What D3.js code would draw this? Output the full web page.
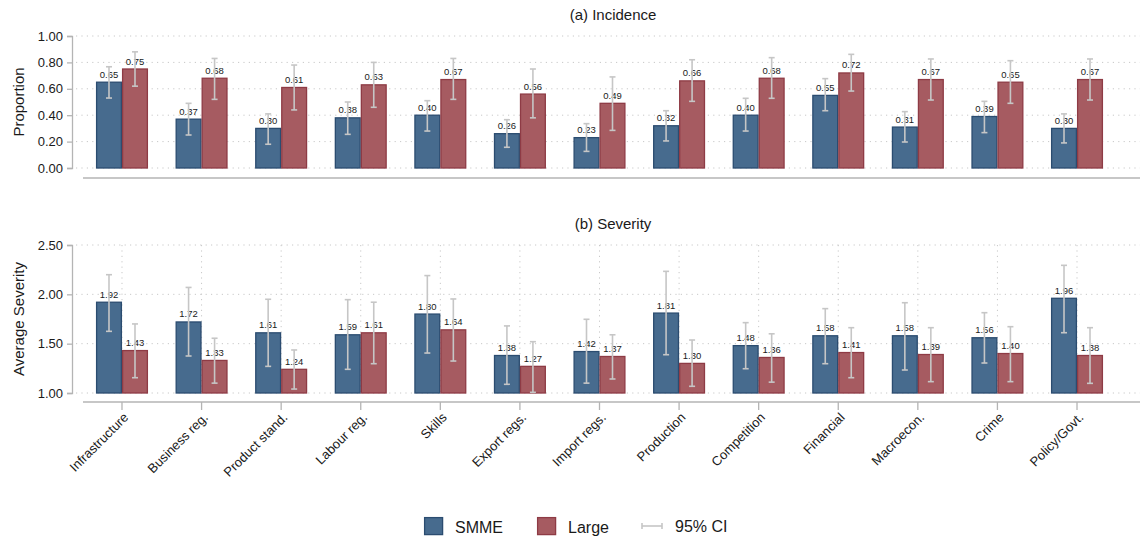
<!DOCTYPE html>
<html>
<head>
<meta charset="utf-8">
<script src="https://cdn.jsdelivr.net/npm/d3@7"></script>
<style>
  html, body { margin: 0; padding: 0; background: #fff; }
  svg { display: block; font-family: "Liberation Sans", Arial, Helvetica, sans-serif; }
</style>
</head>
<body>
<svg id="chart" width="1148" height="541"></svg>
<script>
// Obstacle categories
const categories = ["Infrastructure", "Business reg.", "Product stand.", "Labour reg.", "Skills",
  "Export regs.", "Import regs.", "Production", "Competition", "Financial",
  "Macroecon.", "Crime", "Policy/Govt."];
const seriesNames = ["SMME", "Large"];

// (a) Incidence: share of firms reporting the obstacle
const incSMME  = [0.65, 0.37, 0.30, 0.38, 0.40, 0.26, 0.23, 0.32, 0.40, 0.55, 0.31, 0.39, 0.30];
const incLarge = [0.75, 0.68, 0.61, 0.63, 0.67, 0.56, 0.49, 0.66, 0.68, 0.72, 0.67, 0.65, 0.67];
const incSMMELo  = [0.53, 0.25, 0.18, 0.255, 0.28, 0.157, 0.126, 0.205, 0.28, 0.434, 0.197, 0.268, 0.19];
const incSMMEHi  = [0.767, 0.49, 0.41, 0.50, 0.51, 0.366, 0.336, 0.434, 0.528, 0.677, 0.427, 0.505, 0.41];
const incLargeLo = [0.62, 0.52, 0.44, 0.46, 0.52, 0.38, 0.285, 0.505, 0.528, 0.583, 0.515, 0.49, 0.515];
const incLargeHi = [0.88, 0.83, 0.78, 0.80, 0.83, 0.75, 0.69, 0.82, 0.836, 0.861, 0.826, 0.813, 0.826];

// (b) Severity: average severity score
const sevSMME  = [1.92, 1.72, 1.61, 1.59, 1.80, 1.38, 1.42, 1.81, 1.48, 1.58, 1.58, 1.56, 1.96];
const sevLarge = [1.43, 1.33, 1.24, 1.61, 1.64, 1.27, 1.37, 1.30, 1.36, 1.41, 1.39, 1.40, 1.38];
const sevSMMELo  = [1.625, 1.375, 1.27, 1.24, 1.405, 1.088, 1.10, 1.388, 1.246, 1.297, 1.233, 1.304, 1.611];
const sevSMMEHi  = [2.199, 2.07, 1.95, 1.946, 2.19, 1.68, 1.747, 2.233, 1.713, 1.855, 1.915, 1.814, 2.294];
const sevLargeLo = [1.155, 1.10, 1.04, 1.297, 1.324, 1.007, 1.142, 1.068, 1.11, 1.155, 1.115, 1.115, 1.098];
const sevLargeHi = [1.70, 1.555, 1.436, 1.92, 1.953, 1.52, 1.59, 1.537, 1.60, 1.662, 1.662, 1.672, 1.662];

const incTicks = [0, 0.2, 0.4, 0.6, 0.8, 1.0];
const sevTicks = [1.0, 1.5, 2.0, 2.5];

const colors = {
  SMME:  { fill: "#476b8e", stroke: "#2b4c70" },
  Large: { fill: "#a65b61", stroke: "#8e3b45" }
};
const ciColor = "#c6c6c6";
const gridColor = "#c8c8c8";
const axisColor = "#b4b4b4";

const svg = d3.select("#chart");

const x = d3.scaleBand().domain(categories).range([82.2, 1116.8]).padding(0);
const barW = 26;
const xSub = d3.scaleBand().domain(seriesNames)
  .range([x.bandwidth() / 2 - barW, x.bandwidth() / 2 + barW]).padding(0);

function buildRows(a, b, aLo, aHi, bLo, bHi) {
  const rows = [];
  categories.forEach((c, i) => {
    rows.push({ cat: c, s: "SMME",  v: a[i], lo: aLo[i], hi: aHi[i] });
    rows.push({ cat: c, s: "Large", v: b[i], lo: bLo[i], hi: bHi[i] });
  });
  return rows;
}

function panel(opts) {
  const g = svg.append("g");
  const y = d3.scaleLinear().domain(opts.domain).range([opts.bottom, opts.top]);

  // horizontal dotted gridlines
  g.append("g").selectAll("line").data(opts.ticks).join("line")
    .attr("x1", 76).attr("x2", 1140)
    .attr("y1", d => y(d)).attr("y2", d => y(d))
    .attr("stroke", gridColor).attr("stroke-width", 1)
    .attr("stroke-dasharray", "1.2,4.2");

  // vertical dotted gridlines
  if (opts.vgrid) {
    g.append("g").selectAll("line").data(categories).join("line")
      .attr("x1", d => x(d) + x.bandwidth() / 2).attr("x2", d => x(d) + x.bandwidth() / 2)
      .attr("y1", opts.top).attr("y2", opts.bottom)
      .attr("stroke", gridColor).attr("stroke-width", 1)
      .attr("stroke-dasharray", "1.2,4.2");
  }

  // y axis
  const yAxis = d3.axisLeft(y).tickValues(opts.ticks).tickFormat(d3.format(".2f")).tickSize(5).tickPadding(4);
  const ya = g.append("g").attr("transform", "translate(72,0)").call(yAxis);
  ya.select(".domain").attr("stroke", axisColor).attr("stroke-width", 1.3);
  ya.selectAll(".tick line").attr("stroke", axisColor).attr("stroke-width", 1.3);
  ya.selectAll(".tick text").attr("fill", "#1a1a1a").style("font-size", "13px")
    .style("font-family", "'Liberation Sans', Arial, sans-serif");

  // y axis title
  g.append("text")
    .attr("transform", `translate(19,${(opts.top + opts.bottom) / 2}) rotate(-90)`)
    .attr("text-anchor", "middle").attr("dy", "0.35em")
    .style("font-size", "15px").attr("fill", "#1a1a1a")
    .text(opts.ytitle);

  // panel title
  g.append("text").attr("x", 613).attr("y", opts.titleY)
    .attr("text-anchor", "middle").style("font-size", "15px").attr("fill", "#1a1a1a")
    .text(opts.title);

  // x axis baseline
  const xa = g.append("g").attr("transform", `translate(0,${opts.axisY})`)
    .call(d3.axisBottom(x).tickSize(opts.xticks ? 8 : 0).tickFormat(opts.xlabels ? d => d : ""));
  xa.select(".domain").attr("d", "M83,0H1140").attr("stroke", axisColor).attr("stroke-width", 1.6);
  xa.selectAll(".tick line").attr("stroke", axisColor).attr("stroke-width", 1.3);
  if (opts.xlabels) {
    xa.selectAll(".tick text")
      .attr("fill", "#1a1a1a").style("font-size", "13px")
      .style("font-family", "'Liberation Sans', Arial, sans-serif")
      .attr("text-anchor", "end")
      .attr("x", 0).attr("y", 0).attr("dx", 0).attr("dy", "0.35em")
      .attr("transform", "translate(4,13) rotate(-45)");
  } else {
    xa.selectAll(".tick text").remove();
  }

  const rows = buildRows(...opts.data);
  const base = opts.domain[0];

  // bars
  g.append("g").selectAll("rect").data(rows).join("rect")
    .attr("x", d => x(d.cat) + xSub(d.s) + 0.6)
    .attr("width", xSub.bandwidth() - 1.2)
    .attr("y", d => y(d.v))
    .attr("height", d => y(base) - y(d.v))
    .attr("fill", d => colors[d.s].fill)
    .attr("stroke", d => colors[d.s].stroke)
    .attr("stroke-width", 1.3);

  // value labels
  g.append("g").selectAll("text").data(rows).join("text")
    .attr("x", d => x(d.cat) + xSub(d.s) + xSub.bandwidth() / 2)
    .attr("y", d => y(d.v) - 4.5)
    .attr("text-anchor", "middle")
    .style("font-size", "9.5px").attr("fill", "#1a1a1a")
    .text(d => d3.format(".2f")(d.v));

  // confidence intervals
  const ci = g.append("g").selectAll("g").data(rows).join("g")
    .attr("transform", d => `translate(${x(d.cat) + xSub(d.s) + xSub.bandwidth() / 2},0)`);
  ci.append("line").attr("x1", 0).attr("x2", 0)
    .attr("y1", d => y(d.lo)).attr("y2", d => y(d.hi))
    .attr("stroke", ciColor).attr("stroke-width", 1.6);
  ci.append("line").attr("x1", -3).attr("x2", 3)
    .attr("y1", d => y(d.hi)).attr("y2", d => y(d.hi))
    .attr("stroke", ciColor).attr("stroke-width", 1.6);
  ci.append("line").attr("x1", -3).attr("x2", 3)
    .attr("y1", d => y(d.lo)).attr("y2", d => y(d.lo))
    .attr("stroke", ciColor).attr("stroke-width", 1.6);
}

panel({
  domain: [0, 1], top: 36, bottom: 168, ticks: incTicks,
  ytitle: "Proportion", title: "(a) Incidence", titleY: 20,
  axisY: 178, xticks: false, xlabels: false, vgrid: false,
  data: [incSMME, incLarge, incSMMELo, incSMMEHi, incLargeLo, incLargeHi]
});

panel({
  domain: [1, 2.5], top: 245, bottom: 393, ticks: sevTicks,
  ytitle: "Average Severity", title: "(b) Severity", titleY: 229,
  axisY: 402, xticks: true, xlabels: true, vgrid: true,
  data: [sevSMME, sevLarge, sevSMMELo, sevSMMEHi, sevLargeLo, sevLargeHi]
});

// legend
const legend = svg.append("g");
const legendItems = [
  { type: "box", key: "SMME", x: 424, label: "SMME" },
  { type: "box", key: "Large", x: 537, label: "Large" },
  { type: "ci", x: 642, label: "95% CI" }
];
legendItems.forEach(it => {
  if (it.type === "box") {
    legend.append("rect").attr("x", it.x + 0.6).attr("y", 517.6).attr("width", 18).attr("height", 17)
      .attr("fill", colors[it.key].fill).attr("stroke", colors[it.key].stroke).attr("stroke-width", 1.3);
    legend.append("text").attr("x", it.x + 31).attr("y", 532.5)
      .style("font-size", "16px").attr("fill", "#1a1a1a").text(it.label);
  } else {
    legend.append("line").attr("x1", it.x).attr("x2", it.x + 20).attr("y1", 526).attr("y2", 526)
      .attr("stroke", ciColor).attr("stroke-width", 1.6);
    legend.append("line").attr("x1", it.x).attr("x2", it.x).attr("y1", 523).attr("y2", 529)
      .attr("stroke", ciColor).attr("stroke-width", 1.6);
    legend.append("line").attr("x1", it.x + 20).attr("x2", it.x + 20).attr("y1", 523).attr("y2", 529)
      .attr("stroke", ciColor).attr("stroke-width", 1.6);
    legend.append("text").attr("x", it.x + 33).attr("y", 532)
      .style("font-size", "16px").attr("fill", "#1a1a1a").text(it.label);
  }
});
</script>
</body>
</html>
